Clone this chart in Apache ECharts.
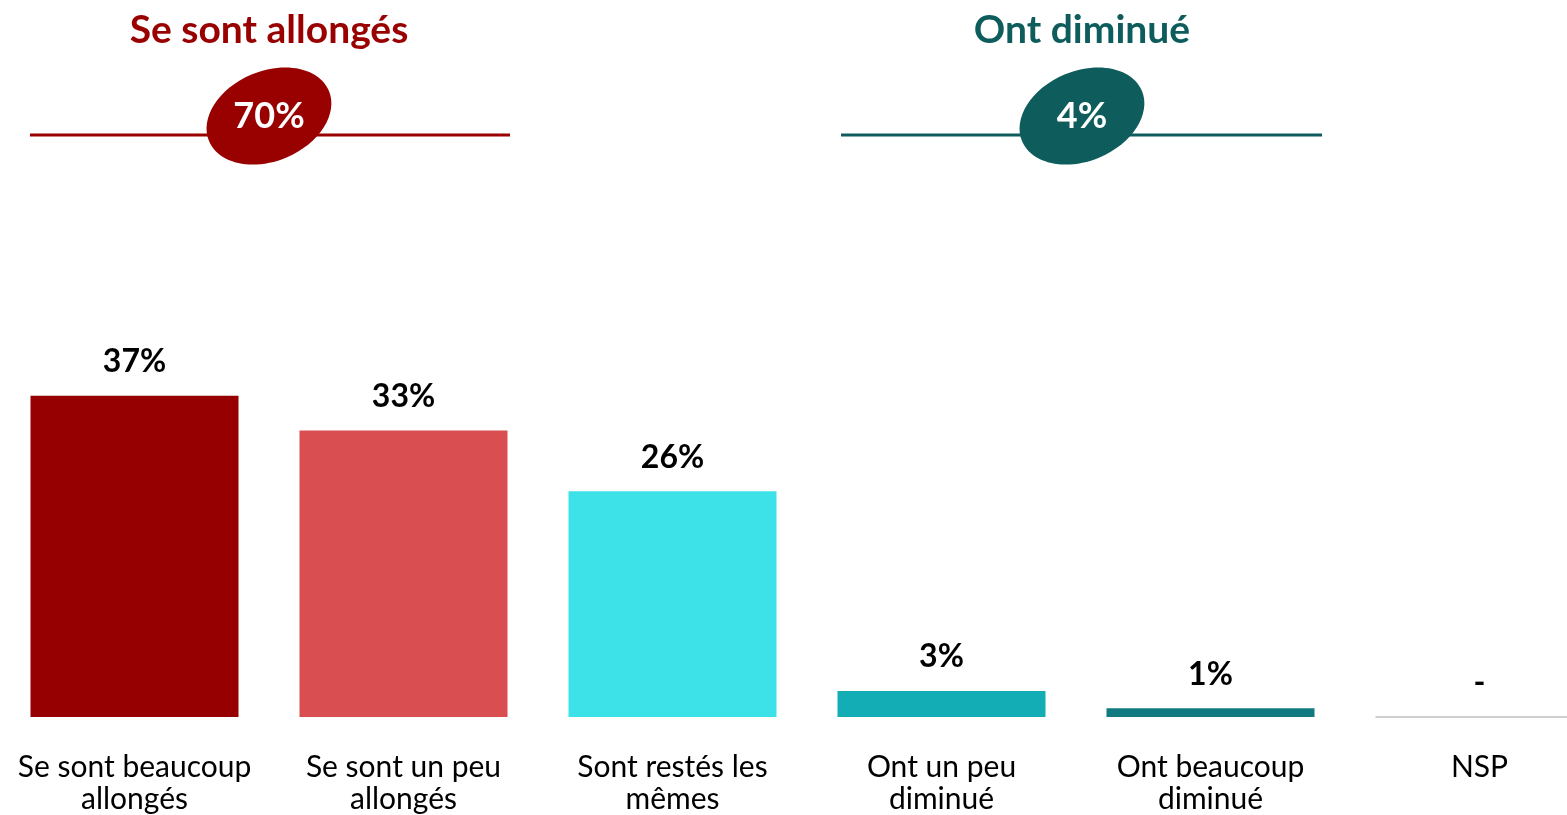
<!DOCTYPE html>
<html lang="fr">
<head>
<meta charset="UTF-8">
<title>Durée</title>
<script src="https://cdn.jsdelivr.net/npm/echarts@6/dist/echarts.min.js"></script>
<style>
  html, body { margin: 0; padding: 0; background: #fff; overflow: hidden; }
  /* la dernière colonne (NSP) déborde à droite comme sur l'original */
  #chart { width: 1614px; height: 815px; }
</style>
</head>
<body>
<div id="chart"></div>
<script>
// données
const categories = ['Se sont beaucoup\nallongés', 'Se sont un peu\nallongés', 'Sont restés les\nmêmes', 'Ont un peu\ndiminué', 'Ont beaucoup\ndiminué', 'NSP'];
const values = [37, 33, 26, 3, 1, 0];
const barColors = ['#960000', '#D94E50', '#3DE2E8', '#13AEB5', '#107A80', '#BFBFBF'];
const groupTitles = ['Se sont allongés', 'Ont diminué'];
const groupTotals = [70, 4];
const groupColors = ['#990000', '#0E5C5C'];

const FONT = 'Lato';
const chart = echarts.init(document.getElementById('chart'));

// bandeau de regroupement (titre + trait + ellipse)
function groupBlock(cx, x1, x2, title, total, color) {
  return [
    { type: 'text', x: cx, y: 30, style: { text: title, font: 'bold 39px ' + FONT, fill: color, align: 'center', verticalAlign: 'middle' } },
    { type: 'line', shape: { x1: x1, y1: 135, x2: x2, y2: 135 }, style: { stroke: color, lineWidth: 3 } },
    { type: 'ellipse', shape: { cx: 0, cy: 0, rx: 65, ry: 45 }, x: cx, y: 116, rotation: 0.4, style: { fill: color } },
    { type: 'text', x: cx, y: 116, style: { text: total + '%', font: 'bold 36px ' + FONT, fill: '#fff', align: 'center', verticalAlign: 'middle' } }
  ];
}

chart.setOption({
  animation: false,
  grid: { left: 0, right: 0, top: 283, bottom: 97 },
  xAxis: {
    type: 'category',
    data: categories,
    axisLine: { show: false },
    axisTick: { show: false },
    axisLabel: { color: '#000', fontFamily: FONT, fontSize: 30, lineHeight: 32, margin: 34, interval: 0 }
  },
  yAxis: { type: 'value', min: 0, max: 50, show: false, splitLine: { show: false } },
  graphic: [
    ...groupBlock(269, 30, 510, groupTitles[0], groupTotals[0], groupColors[0]),
    ...groupBlock(1082, 841, 1322, groupTitles[1], groupTotals[1], groupColors[1])
  ],
  series: [
    {
      type: 'bar',
      barWidth: 208,
      data: values.map((v, i) => ({ value: v, itemStyle: { color: barColors[i] } })),
      label: {
        show: true,
        position: 'top',
        distance: 18,
        color: '#000',
        fontFamily: FONT,
        fontWeight: 'bold',
        fontSize: 32,
        formatter: p => p.value === 0 ? '-' : p.value + '%'
      }
    },
    {
      // trait gris sous NSP
      type: 'custom',
      silent: true,
      data: values.map((v, i) => [i, v]).filter(d => d[1] === 0),
      renderItem: (params, api) => {
        const p = api.coord([api.value(0), 0]);
        const w = 208;
        return {
          type: 'line',
          shape: { x1: p[0] - w / 2, y1: p[1], x2: p[0] + w / 2, y2: p[1] },
          style: { stroke: barColors[5], lineWidth: 1.5 }
        };
      }
    }
  ]
});
</script>
</body>
</html>
